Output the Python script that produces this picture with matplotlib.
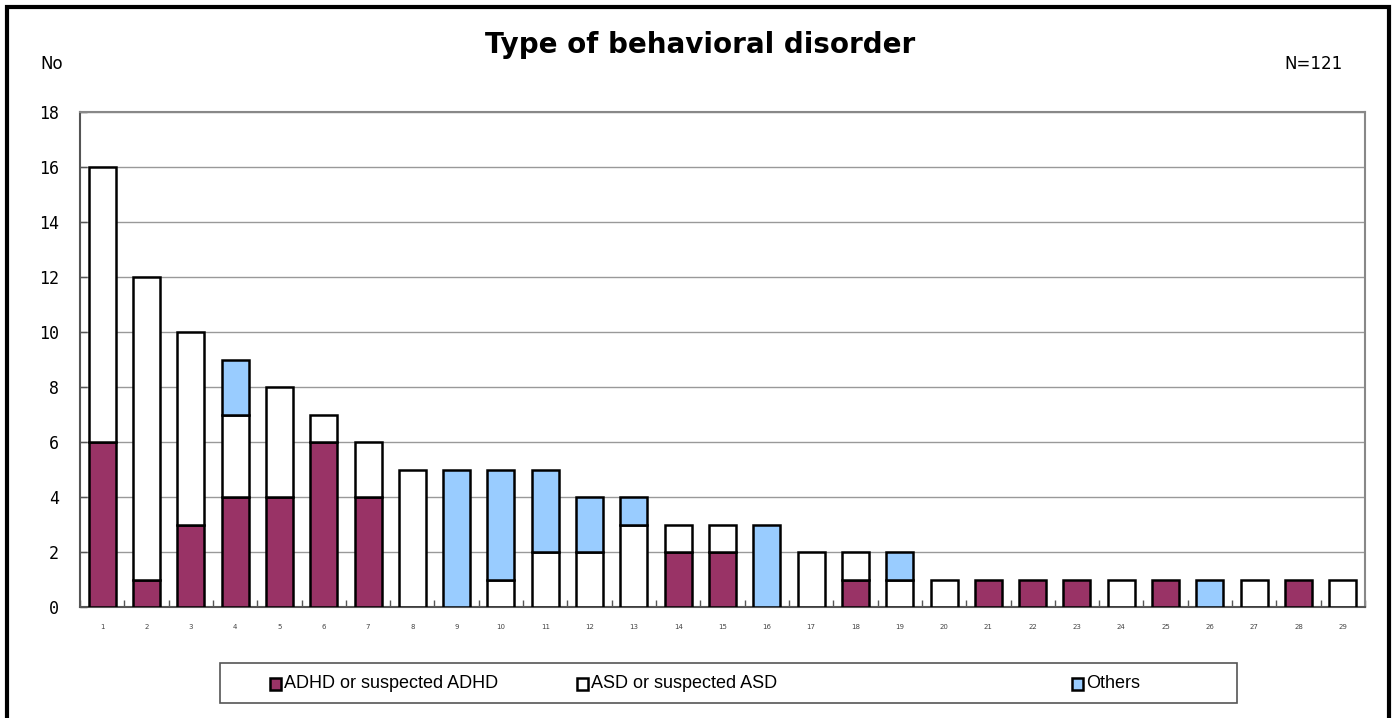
import matplotlib
matplotlib.use("Agg")
import matplotlib.pyplot as plt
from matplotlib.patches import Rectangle
import numpy as np

categories = [str(i) for i in range(1, 30)]
adhd   = [6, 1, 3, 4, 4, 6, 4, 0, 0, 0, 0, 0, 0, 2, 2, 0, 0, 1, 0, 0, 1, 1, 1, 0, 1, 0, 0, 1, 0]
asd    = [10, 11, 7, 3, 4, 1, 2, 5, 0, 1, 2, 2, 3, 1, 1, 0, 2, 1, 1, 1, 0, 0, 0, 1, 0, 0, 1, 0, 1]
others = [0, 0, 0, 2, 0, 0, 0, 0, 5, 4, 3, 2, 1, 0, 0, 3, 0, 0, 1, 0, 0, 0, 0, 0, 0, 1, 0, 0, 0]
yticks = [0, 2, 4, 6, 8, 10, 12, 14, 16, 18]
series_names = ["ADHD or suspected ADHD", "ASD or suspected ASD", "Others"]
colors = ["#993366", "#FFFFFF", "#99CCFF"]

W, H = 1397, 718
fig = plt.figure(figsize=(W / 100, H / 100), dpi=100)

def fx(x):
    return x / W

def fy(y):
    return 1 - y / H

# plot area
L, R, T, B = 80, 1365, 112, 607
ax = fig.add_axes([fx(L), fy(B), fx(R) - fx(L), fy(T) - fy(B)])

x = np.arange(len(categories))
adhd_a = np.array(adhd)
asd_a = np.array(asd)
oth_a = np.array(others)
bw = 0.61
lw = 1.8
def draw(vals, bottom, color):
    for xi, v, b in zip(x, vals, bottom):
        if v > 0:
            ax.bar(xi, v, bottom=b, width=bw, color=color, edgecolor="black",
                   linewidth=lw, zorder=3)

draw(adhd_a, np.zeros_like(adhd_a), colors[0])
draw(asd_a, adhd_a, colors[1])
draw(oth_a, adhd_a + asd_a, colors[2])

ax.set_xlim(-0.5, len(categories) - 0.5)
ax.set_ylim(0, 18)
ax.set_yticks(yticks)
ax.set_yticklabels([str(v) for v in yticks], family="DejaVu Sans Mono", fontsize=12)
ax.yaxis.grid(True, color="#999999", linewidth=1, zorder=0)
ax.set_axisbelow(True)

ax.set_xticks(x)
ax.set_xticklabels(categories, fontsize=5, color="#444444")
ax.tick_params(axis="x", length=0, pad=12)
ax.set_xticks(np.arange(-0.5, len(categories), 1), minor=True)
ax.tick_params(axis="x", which="minor", direction="in", length=5, width=1, color="#555555")
ax.tick_params(axis="y", direction="in", length=5, width=1, color="#555555", pad=15)

for s in ["top", "right"]:
    ax.spines[s].set_color("#888888")
    ax.spines[s].set_linewidth(1.5)
for s in ["left", "bottom"]:
    ax.spines[s].set_color("#555555")
    ax.spines[s].set_linewidth(1.5)

# outer frame
fig.add_artist(Rectangle((fx(7), fy(730)), fx(1389) - fx(7), fy(7) - fy(730),
                         transform=fig.transFigure, fill=False, edgecolor="black",
                         linewidth=3, clip_on=False))

fig.text(fx(700), fy(45), "Type of behavioral disorder", ha="center", va="center",
         fontsize=20, fontweight="bold", family="DejaVu Sans")
fig.text(fx(40), fy(64), "No", ha="left", va="center", fontsize=12, family="DejaVu Sans")
fig.text(fx(1343), fy(64), "N=121", ha="right", va="center", fontsize=12, family="DejaVu Sans")

# legend
fig.add_artist(Rectangle((fx(220), fy(703)), fx(1237) - fx(220), fy(663) - fy(703),
                         transform=fig.transFigure, fill=False, edgecolor="#555555",
                         linewidth=1.2))
entries = [(270, series_names[0], colors[0]),
           (577, series_names[1], colors[1]),
           (1072, series_names[2], colors[2])]
for mx, name, c in entries:
    fig.add_artist(Rectangle((fx(mx), fy(690)), fx(11), fy(678) - fy(690),
                             transform=fig.transFigure, facecolor=c, edgecolor="black",
                             linewidth=1.8))
    fig.text(fx(mx + 14), fy(684), name, ha="left", va="center", fontsize=13,
             family=["Liberation Sans", "DejaVu Sans"])

fig.savefig("out.png", dpi=100)
